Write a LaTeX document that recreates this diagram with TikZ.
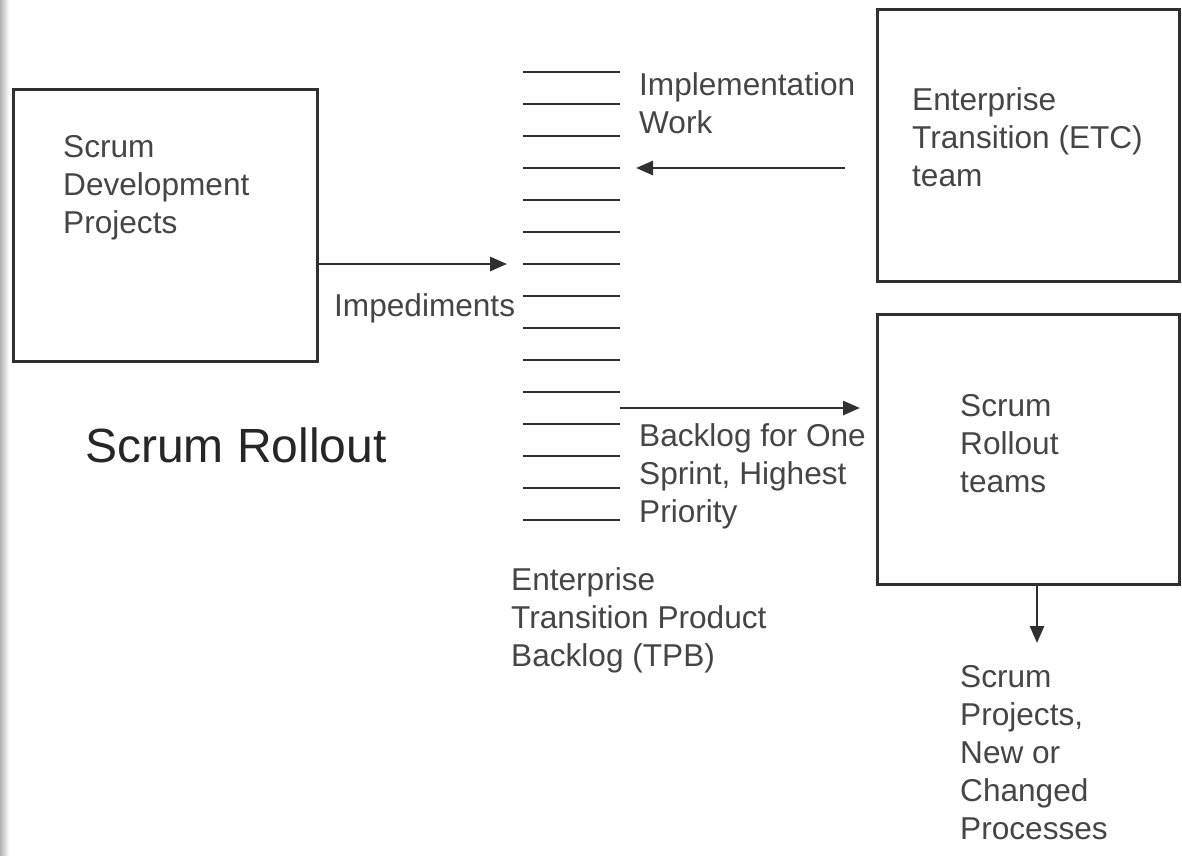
\documentclass[tikz,border=0pt]{standalone}
\usepackage{fontspec}
\setmainfont{Liberation Sans}
\usetikzlibrary{arrows.meta}
\definecolor{inkgray}{HTML}{303030}
\definecolor{txtgray}{HTML}{454545}
\begin{document}
\begin{tikzpicture}[x=1pt, y=-1pt,
  box/.style={draw=inkgray, line width=2.8pt, anchor=north west, inner sep=0pt},
  txt/.style={anchor=base west, inner sep=0pt, align=left, text=txtgray,
    font=\fontsize{31.6}{38}\selectfont},
  itemline/.style={draw=inkgray, line width=2.8pt},
  flow/.style={draw=inkgray, line width=2.8pt, -{Triangle[length=17pt,width=14pt]}}]
  \useasboundingbox (0,0) rectangle (1182,855);
  \shade[left color=black!30, right color=white] (0,0) rectangle (9,855);

  \node[box, minimum width=304pt, minimum height=272pt] (dev) at (12,88) {};
  \node[box, minimum width=302pt, minimum height=272pt] (etc) at (876,8) {};
  \node[box, minimum width=302pt, minimum height=270pt] (rollout) at (876,313) {};

  \foreach \i in {1,...,15}{
    \coordinate (l\i) at (523,{40+32*\i});
    \coordinate (r\i) at (620,{40+32*\i});
    \draw[itemline] (l\i) -- (r\i);
  }
  \coordinate (pick) at (620,408);
  \coordinate (out) at (1037,643);

  % base anchor sits on the last line
  \node[txt] (devtxt) at (63,233) {Scrum\\Development\\Projects};
  \node[txt] (etctxt) at (912,186) {Enterprise\\Transition (ETC)\\team};
  \node[txt] (rolltxt) at (960,492) {Scrum\\Rollout\\teams};
  \node[txt] (impl) at (639,133) {Implementation\\Work};
  \node[txt] (imped) at (334,316) {Impediments};
  \node[txt] (prio) at (639,522) {Backlog for One\\Sprint, Highest\\Priority};
  \node[txt] (tpb) at (511,666) {Enterprise\\Transition Product\\Backlog (TPB)};
  \node[txt] (result) at (960,839) {Scrum\\Projects,\\New or\\Changed\\Processes};
  \node[txt, text=black!85, font=\fontsize{48}{54}\selectfont] (title) at (85,462) {Scrum Rollout};

  \draw[flow] (dev.east |- l7) -- ([xshift=-16pt]l7);
  \draw[flow, shorten <=31pt] (etc.west |- r4) -- ([xshift=16pt]r4);
  \draw[flow, shorten >=16pt] (pick) -- (rollout.west |- pick);
  \draw[flow] (rollout.south -| out) -- (out);
\end{tikzpicture}
\end{document}
